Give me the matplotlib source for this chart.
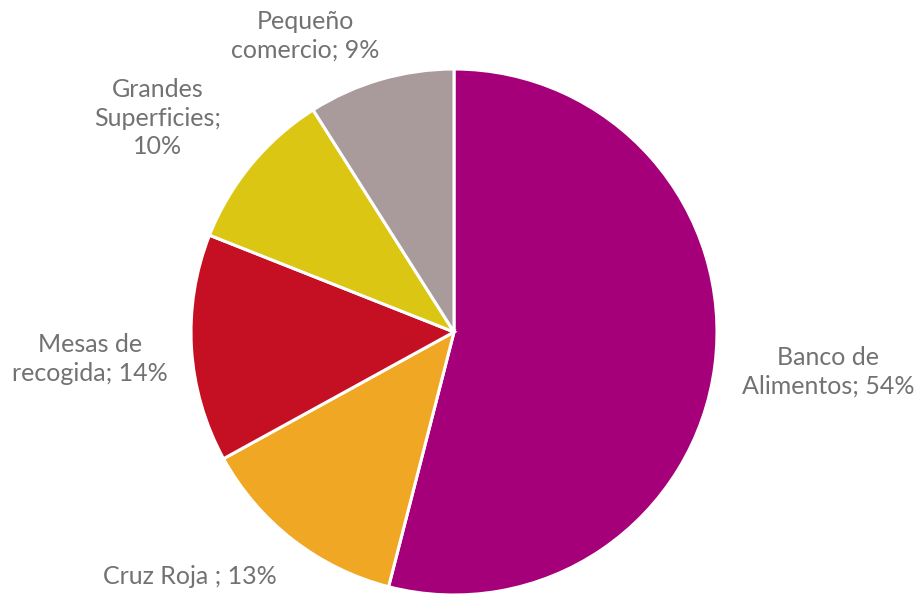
import matplotlib.pyplot as plt

# datos
categorias = ["Banco de\nAlimentos; 54%", "Cruz Roja ; 13%", "Mesas de\nrecogida; 14%",
              "Grandes\nSuperficies;\n10%", "Pequeño\ncomercio; 9%"]
valores = [54, 13, 14, 10, 9]
colores = ["#A5007A", "#F0A824", "#C41022", "#DAC613", "#A99B9B"]

# posiciones de las etiquetas (pixeles desde arriba)
pos_etiquetas = [(828, 372), (190, 577), (90, 359), (158, 118), (305, 36)]

fig = plt.figure(figsize=(9.16, 5.94), dpi=100)
ax = fig.add_axes([0, 0, 1, 1])
ax.pie(valores, colors=colores, startangle=90, counterclock=False,
       center=(454, 594 - 332), radius=263,
       wedgeprops=dict(edgecolor="white", linewidth=2.2))
ax.set_xlim(0, 916)
ax.set_ylim(0, 594)
ax.set_aspect("equal")
ax.axis("off")

for texto, (x, y) in zip(categorias, pos_etiquetas):
    ax.text(x, 594 - y, texto, ha="center", va="center", fontsize=18, color="#727272",
            family="Lato", linespacing=1.3)

fig.savefig("out.png", dpi=100)
